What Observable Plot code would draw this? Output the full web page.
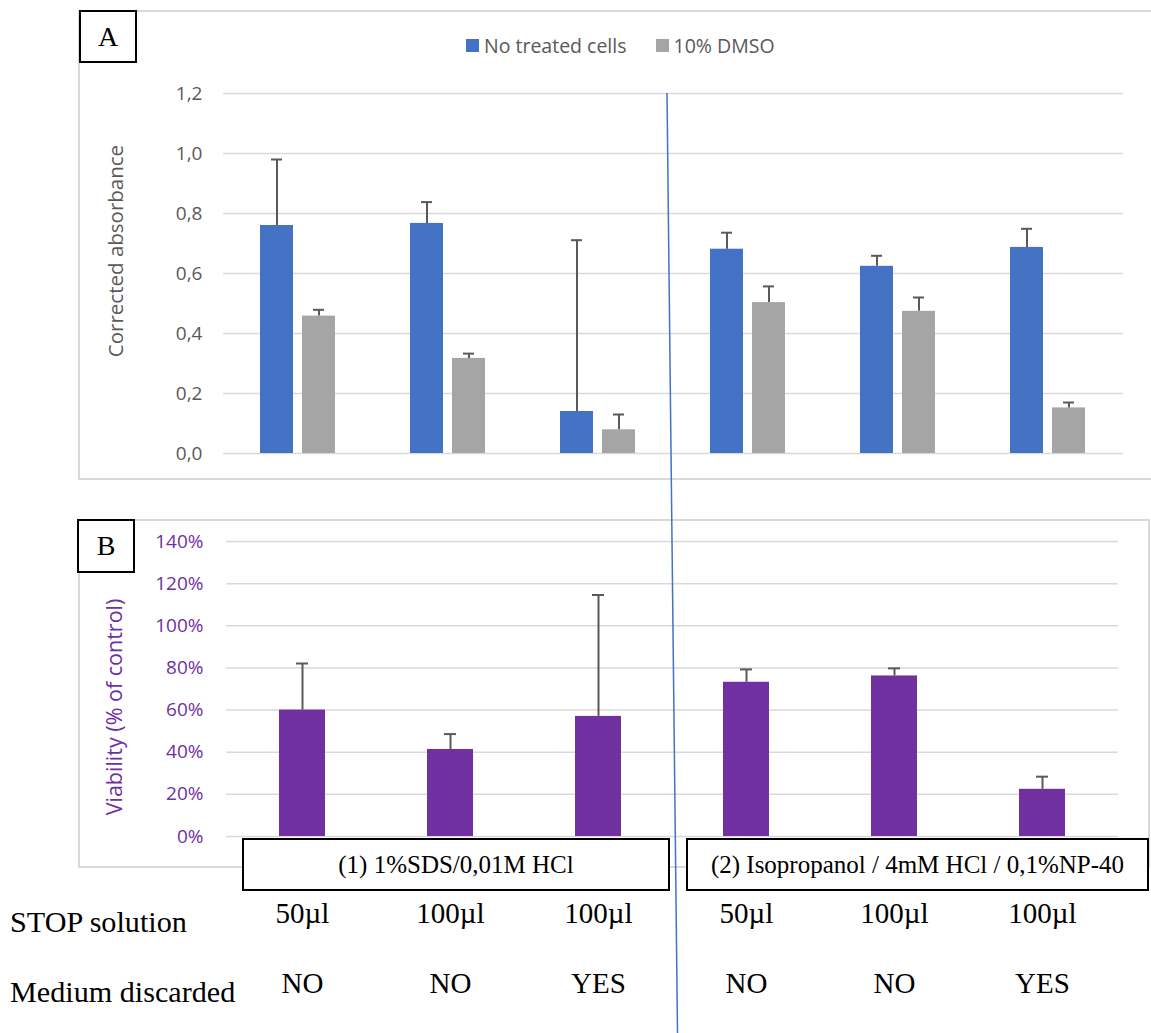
<!DOCTYPE html>
<html>
<head>
<meta charset="utf-8">
<script src="https://cdn.jsdelivr.net/npm/d3@7"></script>
<script src="https://cdn.jsdelivr.net/npm/@observablehq/plot@0.6"></script>
<style>
  html, body { margin: 0; padding: 0; background: #fff; overflow: hidden; }
  #fig { position: relative; width: 1151px; height: 1033px; overflow: hidden; background: #fff; font-family: "Open Sans", sans-serif; }
  .frame { position: absolute; border: 2px solid #d9d9d9; box-sizing: border-box; }
  .tag { position: absolute; border: 2px solid #000; background: #fff; box-sizing: border-box;
         font-family: "Liberation Serif", "Times New Roman", serif; display: flex; align-items: center; justify-content: center; }
  .ytitle { position: absolute; transform: translate(-50%, -50%) rotate(-90deg); white-space: nowrap; }
  .rowlbl { position: absolute; left: 10px; transform-origin: left center; transform: translateY(-50%) scaleX(1.04); font-family: "Liberation Serif", "Times New Roman", serif; font-size: 29px; color: #000; white-space: nowrap; }
  .plotwrap { position: absolute; left: 0; }
</style>
</head>
<body>
<div id="fig">
  <div class="frame" style="left:78px; top:10px; width:1100px; height:470px;"></div>
  <div class="frame" style="left:78px; top:519px; width:1072px; height:349px;"></div>
  <div id="plotA" class="plotwrap" style="top:0px;"></div>
  <div id="plotB" class="plotwrap" style="top:500px;"></div>
  <div class="tag" style="left:79px; top:10px; width:58px; height:53px; font-size:28px;">A</div>
  <div class="tag" style="left:77px; top:519px; width:58px; height:54px; font-size:28px;">B</div>
  <div id="legend" style="position:absolute; left:466px; top:34px; height:22px; display:flex; align-items:center; font-size:19.5px; color:#595959; white-space:nowrap;"></div>
  <div class="ytitle" style="left:115px; top:251px; font-size:20.5px; color:#595959;">Corrected absorbance</div>
  <div class="ytitle" style="left:113px; top:707px; font-size:21.5px; color:#7030A0;">Viability (% of control)</div>
  <div id="solBoxes"></div>
  <div class="rowlbl" style="top:922px;">STOP solution</div>
  <div class="rowlbl" style="top:992px;">Medium discarded</div>
  <svg style="position:absolute; left:0; top:0; pointer-events:none;" width="1151" height="1033">
    <line x1="667" y1="93" x2="677.5" y2="1033" stroke="#4472C4" stroke-width="1.5"/>
  </svg>
</div>
<script>
// ---------- data ----------
const conditionIds = ["C1", "C2", "C3", "C4", "C5", "C6"];
const solutions = ["(1) 1%SDS/0,01M HCl", "(2) Isopropanol / 4mM HCl / 0,1%NP-40"];
const stopVolumes = ["50µl", "100µl", "100µl", "50µl", "100µl", "100µl"];
const mediumDiscarded = ["NO", "NO", "YES", "NO", "NO", "YES"];
const series = ["No treated cells", "10% DMSO"];
const seriesColors = ["#4472C4", "#A5A5A5"];

const absNoTreated    = [0.760, 0.767, 0.140, 0.681, 0.624, 0.687];
const absNoTreatedErr = [0.220, 0.071, 0.571, 0.055, 0.035, 0.062];
const absDMSO         = [0.458, 0.317, 0.079, 0.503, 0.474, 0.152];
const absDMSOErr      = [0.021, 0.016, 0.051, 0.054, 0.046, 0.018];

const viability    = [60.0, 41.3, 57.0, 73.2, 76.2, 22.4];
const viabilityErr = [22.1, 7.3, 57.6, 6.1, 3.6, 6.0];

const absTicks = [0, 0.2, 0.4, 0.6, 0.8, 1.0, 1.2];
const viaTicks = [0, 20, 40, 60, 80, 100, 120, 140];

// ---------- tables ----------
const absRows = conditionIds.flatMap((c, i) => [
  {condition: c, series: series[0], value: absNoTreated[i], top: absNoTreated[i] + absNoTreatedErr[i]},
  {condition: c, series: series[1], value: absDMSO[i], top: absDMSO[i] + absDMSOErr[i]}
]);
const viaRows = conditionIds.map((c, i) => ({
  condition: c, value: viability[i], top: viability[i] + viabilityErr[i],
  stop: stopVolumes[i], medium: mediumDiscarded[i]
}));

// ---------- panel A ----------
const plotA = Plot.plot({
  width: 1151, height: 480,
  marginLeft: 223, marginRight: 28, marginTop: 93, marginBottom: 27,
  style: {background: "transparent", fontFamily: "Open Sans", fontSize: "19px", color: "#595959", overflow: "visible"},
  fx: {domain: conditionIds, padding: 0, axis: null},
  x: {domain: series, paddingInner: 0.209, paddingOuter: 0.849, axis: null},
  y: {domain: [0, 1.2], ticks: absTicks, tickSize: 0, tickPadding: 21, label: null,
      tickFormat: d => d.toFixed(1).replace(".", ",")},
  color: {domain: series, range: seriesColors},
  marks: [
    Plot.ruleY(absTicks, {stroke: "#d9d9d9", strokeWidth: 1.5}),
    Plot.barY(absRows, {fx: "condition", x: "series", y: "value", fill: "series"}),
    Plot.ruleX(absRows, {fx: "condition", x: "series", y1: "value", y2: "top", stroke: "#595959", strokeWidth: 2}),
    Plot.tickY(absRows, {fx: "condition", x: "series", y: "top", stroke: "#595959", strokeWidth: 2, insetLeft: 11, insetRight: 11})
  ]
});
document.getElementById("plotA").appendChild(plotA);

// ---------- panel B ----------
const plotB = Plot.plot({
  width: 1151, height: 533,
  marginLeft: 226, marginRight: 33, marginTop: 41, marginBottom: 197,
  style: {background: "transparent", fontFamily: "Open Sans", fontSize: "19px", color: "#7030A0", overflow: "visible"},
  x: {domain: conditionIds, paddingInner: 0.687, paddingOuter: 0.3435, axis: null},
  y: {domain: [0, 140], ticks: viaTicks, tickSize: 0, tickPadding: 23, label: null, tickFormat: d => d + "%"},
  marks: [
    Plot.ruleY(viaTicks, {stroke: "#d9d9d9", strokeWidth: 1.5}),
    Plot.barY(viaRows, {x: "condition", y: "value", fill: "#7030A0"}),
    Plot.ruleX(viaRows, {x: "condition", y1: "value", y2: "top", stroke: "#595959", strokeWidth: 2}),
    Plot.tickY(viaRows, {x: "condition", y: "top", stroke: "#595959", strokeWidth: 2, insetLeft: 17, insetRight: 17}),
    Plot.text(viaRows, {x: "condition", text: "stop", frameAnchor: "bottom", dy: 86, fill: "#000",
      fontFamily: "Liberation Serif", fontSize: 29}),
    Plot.text(viaRows, {x: "condition", text: "medium", frameAnchor: "bottom", dy: 156, fill: "#000",
      fontFamily: "Liberation Serif", fontSize: 29})
  ]
});
document.getElementById("plotB").appendChild(plotB);

// ---------- legend ----------
const legend = document.getElementById("legend");
series.forEach((s, i) => {
  const item = document.createElement("div");
  item.style.cssText = "display:flex; align-items:center;" + (i > 0 ? "margin-left:29px;" : "");
  item.innerHTML = `<span style="display:inline-block;width:13px;height:13px;background:${seriesColors[i]};margin-right:5px;"></span><span>${s}</span>`;
  legend.appendChild(item);
});

// ---------- solution boxes ----------
const boxes = document.getElementById("solBoxes");
const boxPos = [{left: 242, width: 428}, {left: 686, width: 463}];
solutions.forEach((s, i) => {
  const b = document.createElement("div");
  b.className = "tag";
  b.style.cssText = `left:${boxPos[i].left}px; top:838px; width:${boxPos[i].width}px; height:53px; font-size:25px;`;
  b.textContent = s;
  boxes.appendChild(b);
});
</script>
</body>
</html>
